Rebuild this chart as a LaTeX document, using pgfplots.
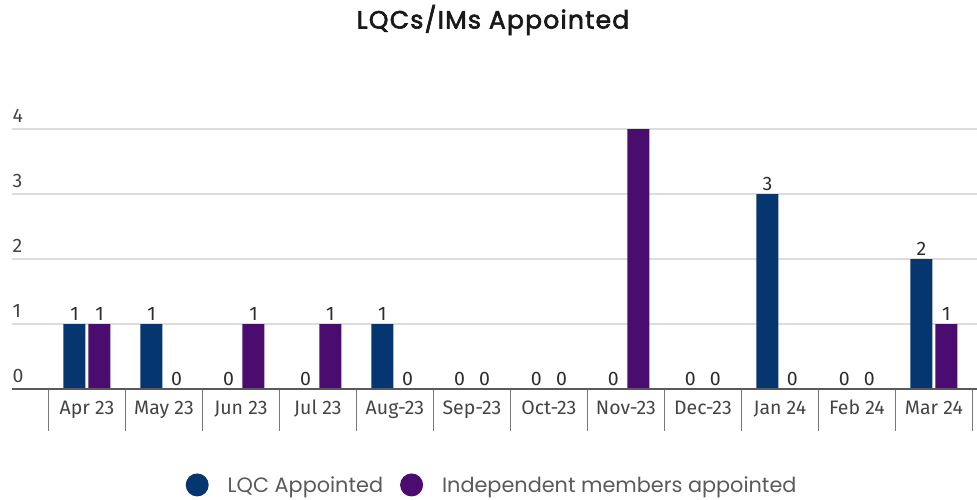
\documentclass[border=0pt]{standalone}
\usepackage{pgfplots}
\pgfplotsset{compat=1.18}
\usepackage{fontspec}
\setmainfont{Fira Sans}
\newfontfamily\poppins{Poppins}
\newfontfamily\poppinsfb{Poppins}[FakeBold=2.5, LetterSpace=5]
\definecolor{lqc}{RGB}{5,54,112}
\definecolor{im}{RGB}{74,12,110}
\definecolor{gridc}{RGB}{220,220,220}
\definecolor{axc}{RGB}{90,90,90}
\definecolor{sepc}{RGB}{120,120,120}
\definecolor{tickc}{RGB}{68,68,68}
\definecolor{valc}{RGB}{45,45,45}
\definecolor{legc}{RGB}{90,90,90}
\begin{document}
\begin{tikzpicture}[x=1pt,y=1pt]
\path[use as bounding box] (0,0) rectangle (977,499);
\node[font=\poppinsfb\fontsize{25}{28}\selectfont, text=black!90] at (493,479) {LQCs/IMs Appointed};
\begin{axis}[
  at={(12pt,110pt)}, anchor=south west,
  scale only axis, width=965pt, height=260pt,
  xmin=-0.974, xmax=11.56, ymin=0, ymax=4,
  axis line style={draw=none},
  ybar=3pt, bar width=22pt,
  ymajorgrids, grid style={gridc, line width=1.3pt},
  ytick={0,1,2,3,4},
  ytick style={draw=none},
  yticklabel style={anchor=south west, font=\fontsize{19.5}{22}\selectfont, text=tickc, xshift=-3pt, yshift=3pt},
  /pgf/number format/assume math mode=true,
  xtick={0,...,11},
  xticklabels={Apr 23,May 23,Jun 23,Jul 23,Aug-23,Sep-23,Oct-23,Nov-23,Dec-23,Jan 24,Feb 24,Mar 24},
  xticklabel style={font=\fontsize{19.5}{22}\selectfont, text=tickc, yshift=-8pt, text height=14pt, text depth=4pt},
  minor xtick={-0.5,0.5,...,11.5},
  xtick pos=bottom,
  tick align=outside,
  major tick length=0pt,
  minor tick length=42pt,
  minor tick style={sepc, line width=1.3pt},
  point meta=explicit symbolic,
  nodes near coords,
  nodes near coords style={font=\fontsize{19.5}{22}\selectfont, text=valc, inner sep=3.5pt},
  legend columns=2,
  legend style={draw=none, fill=none, at={(0.4975,-0.369)}, anchor=center,
    font=\poppins\fontsize{20.8}{23}\selectfont, text=legc,
    /tikz/every odd column/.append style={column sep=17pt},
    /tikz/every even column/.append style={column sep=15pt}},
  legend image code/.code={\fill (0pt,0pt) circle (11.5pt);},
]
\addplot[fill=lqc, draw=none] coordinates {
(0,1)[1] (1,1)[1] (2,0)[0] (3,0)[0] (4,1)[1] (5,0)[0] (6,0)[0] (7,0)[0] (8,0)[0] (9,3)[3] (10,0)[0] (11,2)[2]};
\addlegendentry{LQC Appointed}
\addplot[fill=im, draw=none] coordinates {
(0,1)[1] (1,0)[0] (2,1)[1] (3,1)[1] (4,0)[0] (5,0)[0] (6,0)[0] (7,4)[] (8,0)[0] (9,0)[0] (10,0)[0] (11,1)[1]};
\addlegendentry{Independent members appointed}
\draw[axc, line width=2pt] (rel axis cs:0,0) -- (rel axis cs:1,0);
\end{axis}
\end{tikzpicture}
\end{document}
